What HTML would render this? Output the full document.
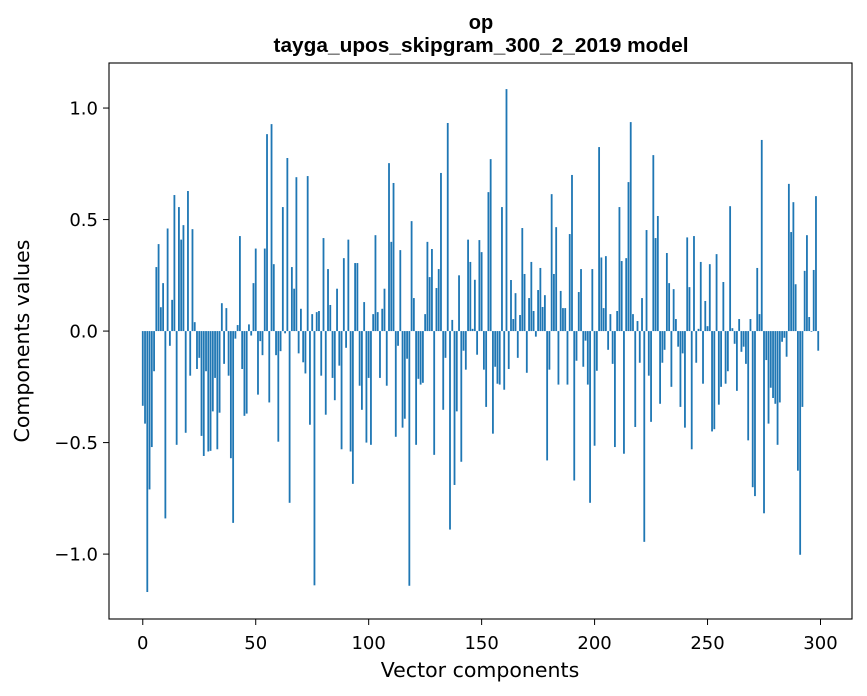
<!DOCTYPE html>
<html><head><meta charset="utf-8"><style>
html,body{margin:0;padding:0;background:#fff;}
svg{display:block;font-family:"DejaVu Sans","Liberation Sans",sans-serif;}
.ttl{font-family:"Liberation Sans","DejaVu Sans",sans-serif;font-weight:bold;}
</style></head><body>
<svg id="chart" width="867" height="696">
<rect width="867" height="696" fill="#fff"/>
<text class="ttl" x="481" y="29" text-anchor="middle" font-size="20">op</text>
<text class="ttl" x="481" y="52" text-anchor="middle" font-size="20" textLength="415" lengthAdjust="spacingAndGlyphs">tayga_upos_skipgram_300_2_2019 model</text>
<g id="bars"></g>
<g id="axes"></g>
<text x="480" y="677" text-anchor="middle" font-size="20.5">Vector components</text>
<text transform="translate(29,341) rotate(-90)" text-anchor="middle" font-size="20.5">Components values</text>
</svg>
<script>
const values = [
-0.335,-0.415,-1.17,-0.71,-0.52,-0.18,0.287,0.39,0.107,0.215,
-0.84,0.46,-0.066,0.14,0.61,-0.51,0.556,0.41,0.475,-0.456,
0.628,-0.2,0.457,0.04,-0.17,-0.12,-0.47,-0.56,-0.18,-0.54,
-0.537,-0.36,-0.21,-0.53,-0.366,0.125,-0.147,0.103,-0.2,-0.57,
-0.86,-0.034,0.027,0.426,-0.17,-0.38,-0.37,0.03,-0.02,0.215,
0.37,-0.285,-0.045,-0.108,0.37,0.883,-0.32,0.928,0.30,-0.108,
-0.496,-0.09,0.556,-0.01,0.776,-0.77,0.287,0.19,0.69,-0.10,
0.10,-0.14,-0.19,0.695,-0.42,0.076,-1.14,0.085,0.09,-0.2,
0.417,-0.375,0.278,0.117,-0.21,-0.31,0.19,-0.155,-0.53,0.327,
-0.075,0.41,-0.54,-0.685,0.305,0.305,-0.245,-0.353,0.13,-0.5,
-0.21,-0.51,0.076,0.43,0.085,-0.21,0.1,0.19,-0.245,0.753,
0.40,0.664,-0.474,-0.066,0.363,-0.433,-0.393,-0.124,-1.142,0.493,
0.148,-0.51,-0.214,-0.24,-0.232,0.076,0.4,0.242,0.368,-0.555,
0.193,0.278,0.709,-0.353,-0.12,0.933,-0.89,0.05,-0.69,-0.36,
0.25,-0.586,-0.088,-0.173,0.41,0.31,0.01,0.23,-0.106,0.408,
0.354,-0.173,-0.34,0.623,0.771,-0.46,-0.16,-0.236,-0.24,0.556,
-0.263,1.085,-0.17,0.229,0.054,0.17,-0.12,0.072,0.462,0.256,
-0.187,0.148,0.31,0.09,-0.025,0.184,0.283,0.108,0.161,-0.58,
-0.173,0.614,0.256,0.466,-0.24,0.18,0.103,0.103,-0.24,0.435,
0.70,-0.67,-0.133,0.175,0.278,-0.16,-0.043,-0.24,-0.77,0.278,
-0.514,-0.178,0.825,0.33,0.103,0.336,-0.084,0.076,-0.147,-0.52,
0.09,0.556,0.314,-0.55,0.327,0.668,0.937,0.076,-0.43,0.045,
-0.142,0.148,-0.945,0.453,-0.2,-0.407,0.789,0.417,0.516,-0.326,
-0.142,-0.084,0.35,0.215,-0.25,0.188,0.054,-0.07,-0.34,-0.1,
-0.433,0.42,0.197,-0.53,0.426,-0.142,0.01,0.31,-0.236,0.135,
0.022,0.30,-0.45,-0.44,0.345,-0.33,-0.25,0.22,-0.236,-0.18,
0.56,0.013,-0.057,-0.268,0.054,-0.093,-0.07,-0.147,-0.49,0.054,
-0.70,-0.74,0.283,0.076,0.857,-0.817,-0.13,-0.415,-0.254,-0.3,
-0.326,-0.51,-0.32,-0.048,-0.03,-0.115,0.66,0.444,0.578,0.21,
-0.626,-1.003,-0.34,0.27,0.43,0.063,-0.003,0.274,0.605,-0.088
];
const xTicks = [0,50,100,150,200,250,300];
const yTicks = [-1.0,-0.5,0.0,0.5,1.0];
const yTickLabels = ["\u22121.0","\u22120.5","0.0","0.5","1.0"];

const L=109,R=852,T=63,B=619;
const xMin=-14.95,xMax=313.95,yMin=-1.291,yMax=1.202;
const xs=v=>L+(v-xMin)/(xMax-xMin)*(R-L);
const ys=v=>B-(v-yMin)/(yMax-yMin)*(B-T);
const NS="http://www.w3.org/2000/svg";
const barsG=document.getElementById('bars');
values.forEach((v,i)=>{
  const r=document.createElementNS(NS,'rect');
  const x0=xs(i-0.4),x1=xs(i+0.4);
  const y0=ys(Math.max(v,0)),y1=ys(Math.min(v,0));
  r.setAttribute('x',x0);r.setAttribute('width',x1-x0);
  r.setAttribute('y',y0);r.setAttribute('height',Math.max(y1-y0,0.01));
  r.setAttribute('fill','#1f77b4');
  
  
  barsG.appendChild(r);
});
const ax=document.getElementById('axes');
const frame=document.createElementNS(NS,'rect');
frame.setAttribute('x',L);frame.setAttribute('y',T);
frame.setAttribute('width',R-L);frame.setAttribute('height',B-T);
frame.setAttribute('fill','none');frame.setAttribute('stroke','#000');frame.setAttribute('stroke-width','1.1');


ax.appendChild(frame);
xTicks.forEach(t=>{
  const x=xs(t);
  const l=document.createElementNS(NS,'line');
  l.setAttribute('x1',x);l.setAttribute('x2',x);l.setAttribute('y1',B);l.setAttribute('y2',B+6);
  l.setAttribute('stroke','#000');
  
  
  ax.appendChild(l);
  const tx=document.createElementNS(NS,'text');
  tx.setAttribute('x',x);tx.setAttribute('y',B+30);tx.setAttribute('text-anchor','middle');tx.setAttribute('font-size','18');
  tx.textContent=t;
  
  
  ax.appendChild(tx);
});
yTicks.forEach((t,i)=>{
  const y=ys(t);
  const l=document.createElementNS(NS,'line');
  l.setAttribute('x1',L-6);l.setAttribute('x2',L);l.setAttribute('y1',y);l.setAttribute('y2',y);
  l.setAttribute('stroke','#000');
  
  
  ax.appendChild(l);
  const tx=document.createElementNS(NS,'text');
  tx.setAttribute('x',L-11);tx.setAttribute('y',y+6.5);tx.setAttribute('text-anchor','end');tx.setAttribute('font-size','18');
  tx.textContent=yTickLabels[i];
  
  
  ax.appendChild(tx);
});
</script>
</body></html>
